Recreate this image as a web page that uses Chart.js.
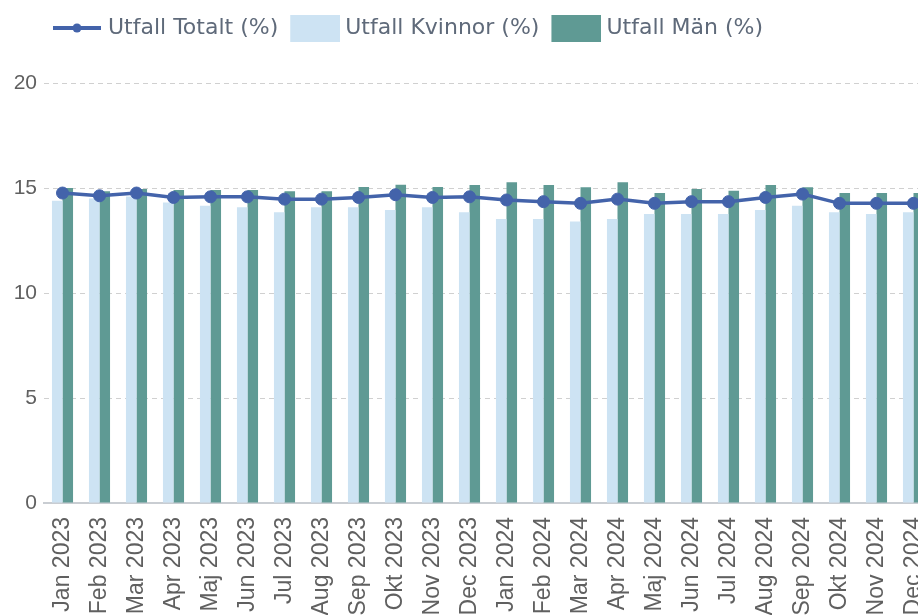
<!DOCTYPE html>
<html>
<head>
<meta charset="utf-8">
<script src="https://cdn.jsdelivr.net/npm/chart.js@4"></script>
<style>
  html, body { margin:0; padding:0; background:#fff; overflow:hidden; }
  #chart { display:block; }
</style>
</head>
<body>
<canvas id="chart" width="950" height="650"></canvas>
<script>
// monthly outcome, percent
const months = ['Jan 2023','Feb 2023','Mar 2023','Apr 2023','Maj 2023','Jun 2023','Jul 2023','Aug 2023','Sep 2023','Okt 2023','Nov 2023','Dec 2023',
                'Jan 2024','Feb 2024','Mar 2024','Apr 2024','Maj 2024','Jun 2024','Jul 2024','Aug 2024','Sep 2024','Okt 2024','Nov 2024','Dec 2024'];
const totalt  = [14.76,14.63,14.76,14.55,14.58,14.58,14.47,14.47,14.55,14.68,14.55,14.58,14.43,14.35,14.27,14.47,14.27,14.35,14.35,14.55,14.71,14.27,14.27,14.27];
const kvinnor = [14.39,14.50,14.60,14.31,14.16,14.08,13.84,14.08,14.08,13.95,14.08,13.84,13.52,13.52,13.41,13.52,13.76,13.76,13.76,13.95,14.16,13.84,13.76,13.84];
const man     = [15.00,14.85,14.95,14.90,14.90,14.90,14.85,14.85,15.05,15.15,15.05,15.14,15.27,15.14,15.03,15.27,14.76,14.95,14.87,15.14,15.03,14.76,14.76,14.76];
const yTicks = [0, 5, 10, 15, 20];

const colors = { total:'#4363aa', women:'#cde3f3', men:'#5f9a94', grid:'#d0d0d0', axis:'#c9cdd2', text:'#606060', legend:'#5f6a7a' };

// legend icons: line with dot, and plain boxes (6px blank on the left so the text sits close)
function lineIcon(color){
  const c = document.createElement('canvas');
  c.width = 56; c.height = 12;
  const g = c.getContext('2d');
  g.strokeStyle = color; g.lineWidth = 4;
  g.beginPath(); g.moveTo(6,6); g.lineTo(54,6); g.stroke();
  g.fillStyle = color;
  g.beginPath(); g.arc(30,6,4.5,0,Math.PI*2); g.fill();
  return c;
}
function boxIcon(color){
  const c = document.createElement('canvas');
  c.width = 56; c.height = 27;
  const g = c.getContext('2d');
  g.fillStyle = color; g.fillRect(6,0,50,27);
  return c;
}
const icons = [lineIcon(colors.total), boxIcon(colors.women), boxIcon(colors.men)];

// extra space below legend, and legend pushed right to line up with the plot
const legendGap = {
  id:'legendGap',
  beforeInit(chart){
    const fit = chart.legend.fit;
    chart.legend.fit = function(){ fit.call(this); this.height += 34; };
  },
  afterLayout(chart){
    chart.legend.left = 41;
  }
};

new Chart(document.getElementById('chart'), {
  type:'bar',
  data:{
    labels: months,
    datasets:[
      {type:'line', label:'Utfall Totalt (%)', data:totalt, borderColor:colors.total, backgroundColor:colors.total,
       borderWidth:3.5, pointRadius:6, pointHoverRadius:6, pointBorderWidth:1, tension:0, order:0},
      {label:'Utfall Kvinnor (%)', data:kvinnor, backgroundColor:colors.women, order:1},
      {label:'Utfall Män (%)', data:man, backgroundColor:colors.men, order:2}
    ]
  },
  options:{
    responsive:false,
    animation:false,
    devicePixelRatio:1,
    layout:{ padding:{ top:5, left:0, right:18, bottom:0 } },
    datasets:{ bar:{ categoryPercentage:0.57, barPercentage:1 } },
    plugins:{
      tooltip:{ enabled:false },
      legend:{
        position:'top', align:'start',
        labels:{
          usePointStyle:true, pointStyleWidth:44, padding:12,
          color:colors.legend, font:{ family:'DejaVu Sans', size:22 },
          generateLabels: chart => chart.data.datasets.map((ds,i)=>({
            text:ds.label, pointStyle:icons[i], rotation:0, datasetIndex:i, hidden:false,
            fontColor:colors.legend, fillStyle:'transparent', strokeStyle:'transparent', lineWidth:0
          }))
        }
      }
    },
    scales:{
      x:{
        grid:{ display:false },
        border:{ display:true, color:colors.axis, width:2 },
        ticks:{ autoSkip:false, minRotation:90, maxRotation:90, padding:6, color:colors.text,
                font:{ family:'Liberation Sans', size:23 } },
        afterFit: s => { s.height = 147; }
      },
      y:{
        min:0, max:20,
        afterBuildTicks: s => { s.ticks = yTicks.map(v=>({value:v})); },
        grid:{ color:colors.grid, drawTicks:false },
        border:{ display:false, dash:[5,4] },
        ticks:{ padding:7, color:colors.text, font:{ family:'Liberation Sans', size:21 } },
        afterFit: s => { s.width = 44; }
      }
    }
  },
  plugins:[legendGap]
});
</script>
</body>
</html>
